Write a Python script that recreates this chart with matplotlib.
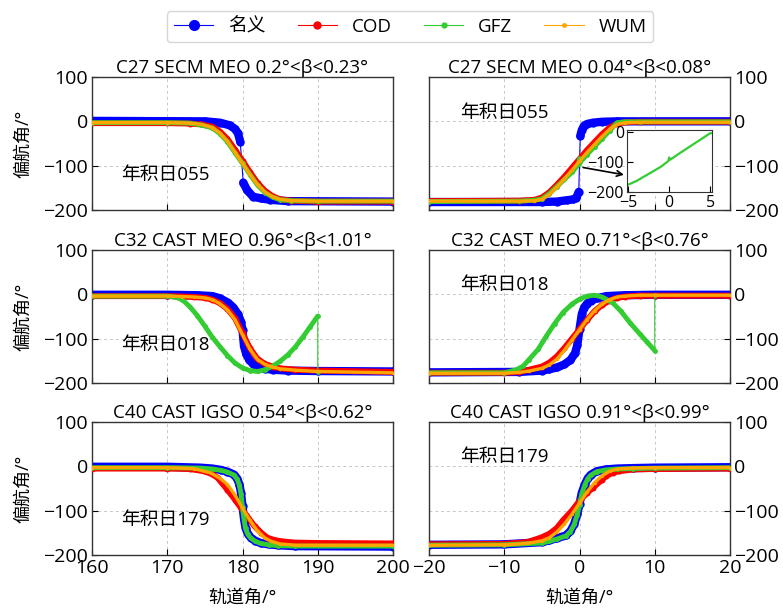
import numpy as np
import matplotlib
matplotlib.use('Agg')
import matplotlib.pyplot as plt
from matplotlib.lines import Line2D

plt.rcParams['font.family'] = ['Open Sans', 'Noto Sans CJK SC', 'DejaVu Sans']
plt.rcParams['axes.unicode_minus'] = True

# ---- data (orbit angle in deg, yaw angle in deg) ----
# panel 1: C27 SECM MEO 0.2°<β<0.23°, DOY 055
p1_nom_x = [160, 175, 177, 178.3, 179.0, 179.4, 179.7, 180.1, 180.6, 181.4, 182.5, 183.7, 186, 200]
p1_nom_y = [1, 0, -3, -9, -17, -27, -46, -138, -155, -170, -174, -177, -180, -181]
p1_x = [160, 170, 173, 174.5, 176, 177, 178, 179, 180, 181, 182, 183, 184, 185, 186.5, 190, 200]
p1_cod = [-4, -4, -5, -7, -12, -23, -40, -64, -89, -115, -139, -157, -169, -176, -179, -181, -181]
p1_gfz = [-3, -3, -4, -8, -15, -28, -46, -71, -95, -120, -144, -161, -171, -177, -179, -180, -180]
p1_wum = [-3, -3, -4, -7, -14, -27, -45, -70, -95, -120, -143, -160, -170, -176, -179, -180, -180]

# panel 2: C27 SECM MEO 0.04°<β<0.08°, DOY 055
p2_nom_x = [-20, -5, -3, -1.7, -0.8, -0.4, -0.1, 0.1, 0.3, 0.6, 1.0, 1.8, 3, 5, 20]
p2_nom_y = [-182, -182, -181, -178, -176, -172, -159, -33, -20, -10, -6, -3, -1, 0, 0]
p2_x = [-20, -8, -6, -5, -4, -3, -2, -1, 0, 1, 2, 3, 4, 5, 6, 8, 20]
p2_cod = [-180, -179, -177, -172, -160, -143, -125, -105, -85, -65, -47, -29, -14, -5, -2, -1, -1]
p2_wum = [-180, -180, -179, -176, -165, -148, -130, -110, -90, -70, -52, -34, -18, -7, -3, -2, -2]
p2_gfz_x = [-20, -8, -6, -5, -4, -3, -2, -1, -0.1, 0, 0.1, 1, 2, 3, 4, 5, 6, 8, 20]
p2_gfz = [-181, -180, -178, -175, -163, -147, -131, -115, -96, -84, -92, -75, -57, -39, -21, -3, -1, -1, -1]

# panel 3: C32 CAST MEO 0.96°<β<1.01°, DOY 018
p3_nom_x = [160, 170, 174, 176, 177, 178.1, 178.8, 179.4, 179.8, 180.0, 180.2, 180.5, 180.9,
            181.4, 182.0, 183, 184, 186, 190, 200]
p3_nom_y = [-1, -1, -2, -4, -9, -19, -30, -45, -62, -80, -117, -135, -148, -157, -163, -168,
            -170, -172, -173, -174]
p3_x = [160, 170, 172, 173.6, 175, 176, 177, 178, 179, 180, 181, 182, 183, 184, 185, 187, 190, 200]
p3_cod = [-4, -4, -5, -6, -8, -12, -20, -33, -54, -88, -122, -146, -157, -163, -167, -170, -172, -175]
p3_wum = [-4, -4, -5, -6, -8, -12, -21, -35, -57, -91, -124, -147, -158, -164, -168, -171, -174, -177]
p3_gfz_x = [160, 170, 171, 172, 173, 174, 175, 176, 177, 178, 179, 180, 181, 182, 183, 184, 185,
            186, 187, 188, 189, 190, 190]
p3_gfz = [-4, -4, -6, -12, -28, -48, -72, -97, -118, -138, -155, -166, -172, -174, -170, -162,
          -151, -137, -119, -97, -73, -49, -175]

# panel 4: C32 CAST MEO 0.71°<β<0.76°, DOY 018
p4_nom_x = [-20, -8, -5, -4, -3, -2, -1.2, -0.6, -0.3, 0, 0.3, 0.6, 1.0, 1.5, 2.5, 3.6, 6, 10, 20]
p4_nom_y = [-176, -175, -172, -169, -165, -158, -148, -133, -115, -79, -45, -30, -21, -14, -8, -4,
            -2, -1, -1]
p4_x = [-20, -10, -8, -6.7, -5, -4, -3, -2, -1, 0, 1, 2, 3, 4, 5, 6, 8, 10, 20]
p4_cod = [-177, -177, -175, -170, -163, -154, -140, -121, -100, -79, -58, -38, -24, -14, -8, -5, -3, -3, -3]
p4_wum = [-178, -178, -176, -173, -167, -159, -146, -126, -103, -80, -57, -37, -22, -12, -6, -4, -2, -2, -2]
p4_gfz_x = [-20, -10, -8.4, -7.5, -6.7, -5.5, -4.4, -3.3, -2.2, -1, 0, 1, 2, 3, 4.4, 5.5, 6.7,
            8, 9, 10, 10]
p4_gfz = [-177, -177, -170, -162, -147, -124, -94, -66, -41, -22, -11, -4, -2, -6, -19, -38, -64,
          -89, -108, -127, -2]

# panel 5: C40 CAST IGSO 0.54°<β<0.62°, DOY 179
p5_nom_x = [160, 170, 174.4, 176, 177.1, 178, 178.9, 179.3, 179.6, 179.8, 180, 180.2, 180.4,
            180.7, 181.1, 181.7, 182.4, 183.5, 184.7, 187, 200]
p5_nom_y = [-1, -1, -3, -5, -8, -12, -19, -28, -41, -60, -90, -118, -139, -152, -161, -168, -173,
            -176, -178, -180, -181]
p5_gfz = [-3, -3, -4, -6, -9, -13, -20, -29, -43, -62, -92, -120, -140, -153, -162, -169, -174,
          -177, -179, -180, -180]
p5_cod_x = [160, 170, 173, 174.9, 176, 176.7, 178, 179, 179.8, 180.5, 181.6, 182.5, 183.3, 184.2,
            185.1, 186.9, 190, 200]
p5_cod = [-5, -5, -6, -11, -18, -26, -53, -75, -94, -110, -135, -150, -161, -166, -169, -172, -173, -174]
p5_wum_x = [160, 170, 173.5, 175.8, 177, 178, 179, 180, 181, 182, 183, 183.8, 185, 187, 200]
p5_wum = [-3, -3, -5, -15, -27, -41, -65, -94, -122, -146, -162, -169, -175, -178, -178]

# panel 6: C40 CAST IGSO 0.91°<β<0.99°, DOY 179
p6_nom_x = [-20, -10, -5, -4, -3, -1.8, -1.2, -0.7, -0.3, 0, 0.3, 0.7, 1.1, 1.5, 2.3, 3.5, 5, 7.1, 10, 20]
p6_nom_y = [-177, -176, -171, -167, -162, -156, -146, -130, -108, -85, -60, -41, -27, -19, -11, -7,
            -5, -4, -3, -2]
p6_gfz = [-178, -177, -173, -169, -164, -157, -147, -131, -109, -87, -62, -42, -28, -20, -12, -8,
          -6, -5, -4, -3]
p6_cod_x = [-20, -10, -7, -6.2, -5, -4, -3, -2.2, -1, 0, 1, 1.8, 3, 3.5, 4.5, 5.3, 7.1, 10, 20]
p6_cod = [-176, -175, -171, -167, -160, -152, -139, -122, -100, -78, -60, -48, -30, -22, -14, -11, -7, -6, -5]
p6_wum_x = [-20, -10, -7, -5, -4, -3, -2, -1, 0, 1, 2, 3, 4, 5, 7, 10, 20]
p6_wum = [-178, -177, -174, -168, -161, -148, -130, -108, -83, -58, -37, -21, -11, -6, -4, -3, -3]

titles = ['C27 SECM MEO 0.2°<β<0.23°', 'C27 SECM MEO 0.04°<β<0.08°',
          'C32 CAST MEO 0.96°<β<1.01°', 'C32 CAST MEO 0.71°<β<0.76°',
          'C40 CAST IGSO 0.54°<β<0.62°', 'C40 CAST IGSO 0.91°<β<0.99°']
doy_labels = ['年积日055', '年积日055', '年积日018', '年积日018', '年积日179', '年积日179']
doy_pos = [(163.9, -121), (-15.9, 18), (163.9, -115), (-15.9, 20), (163.9, -120), (-15.9, 22)]
series_names = ['名义', 'COD', 'GFZ', 'WUM']

panels = [
    [(p1_nom_x, p1_nom_y), (p1_x, p1_cod), (p1_x, p1_gfz), (p1_x, p1_wum)],
    [(p2_nom_x, p2_nom_y), (p2_x, p2_cod), (p2_gfz_x, p2_gfz), (p2_x, p2_wum)],
    [(p3_nom_x, p3_nom_y), (p3_x, p3_cod), (p3_gfz_x, p3_gfz), (p3_x, p3_wum)],
    [(p4_nom_x, p4_nom_y), (p4_x, p4_cod), (p4_gfz_x, p4_gfz), (p4_x, p4_wum)],
    [(p5_nom_x, p5_nom_y), (p5_cod_x, p5_cod), (p5_nom_x, p5_gfz), (p5_wum_x, p5_wum)],
    [(p6_nom_x, p6_nom_y), (p6_cod_x, p6_cod), (p6_nom_x, p6_gfz), (p6_wum_x, p6_wum)],
]

# styles: colour, band width (pt), legend marker size
colors = ['#0000ff', '#ff0000', '#33cc33', '#ffa500']
band_lw = [6.0, 4.3, 3.5, 2.4]
leg_ms = [7, 5, 3.5, 2.5]


def draw_series(ax, x, y, color, lw, z):
    x = np.asarray(x, float)
    y = np.asarray(y, float)
    ax.plot(x, y, color=color, lw=0.8, zorder=z)
    # thick band made of dense markers in the original; break it at big jumps
    brk = np.where(np.abs(np.diff(y)) > 60)[0] + 1
    xb = np.insert(x, brk, np.nan)
    yb = np.insert(y, brk, np.nan)
    ax.plot(xb, yb, color=color, lw=lw, solid_capstyle='round', solid_joinstyle='round', zorder=z)
    ax.plot(x, y, 'o', color=color, ms=lw, mew=0, zorder=z)


fig = plt.figure(figsize=(7.83, 6.08), dpi=100)

lefts = [92 / 783, 429 / 783]
bottoms = [1 - 210 / 608, 1 - 383 / 608, 1 - 555 / 608]
w, h = 301 / 783, 133 / 608

axes = []
for i in range(6):
    row, col = i // 2, i % 2
    ax = fig.add_axes([lefts[col], bottoms[row], w, h])
    axes.append(ax)
    for k, (xs, ys) in enumerate(panels[i]):
        draw_series(ax, xs, ys, colors[k], band_lw[k], 2 + k)

    if col == 0:
        ax.set_xlim(160, 200)
        ax.set_xticks([160, 170, 180, 190, 200])
        ax.set_ylabel('偏航角/°', fontsize=13, labelpad=8)
    else:
        ax.set_xlim(-20, 20)
        ax.set_xticks([-20, -10, 0, 10, 20])
        ax.yaxis.tick_right()
    ax.set_ylim(-200, 100)
    ax.set_yticks([100, 0, -100, -200])
    ax.tick_params(direction='in', length=4, labelsize=14, pad=3)
    if row < 2:
        ax.tick_params(axis='x', labelbottom=False)
    else:
        ax.set_xlabel('轨道角/°', fontsize=13, labelpad=8)
    ax.grid(True, color='#c8c8c8', ls=(0, (3, 3)), lw=0.7)
    ax.set_axisbelow(True)
    for s in ax.spines.values():
        s.set_color('#333333')
        s.set_linewidth(1.0)
    ax.set_title(titles[i], fontsize=13.5, pad=3)
    ax.text(doy_pos[i][0], doy_pos[i][1], doy_labels[i], fontsize=13.5, va='center', ha='left', zorder=10)

# inset on panel 2: GFZ around orbit noon
ins = fig.add_axes([626.7 / 783, 1 - 192 / 608, 85 / 783, 62 / 608])
ins.plot(p2_gfz_x, p2_gfz, color=colors[2], lw=1.6)
ins.set_xlim(-5.2, 5.2)
ins.set_ylim(-200, 8)
ins.set_xticks([-5, 0, 5])
ins.set_yticks([0, -100, -200])
ins.tick_params(direction='in', length=4, labelsize=11.5, pad=2)
for s in ins.spines.values():
    s.set_color('#333333')
axes[1].annotate('', xy=(0.0, 0.27), xycoords=ins.transAxes, xytext=(0.1, -103), textcoords='data',
                 arrowprops=dict(arrowstyle='->', color='k', lw=1.2), zorder=12)

handles = [Line2D([], [], color=colors[k], lw=0.8, marker='o', ms=leg_ms[k]) for k in range(4)]
fig.legend(handles, series_names, loc='upper center', bbox_to_anchor=(0.524, 0.997), ncol=4,
           fontsize=13.5, handlelength=2.1, handletextpad=0.8, columnspacing=1.7,
           frameon=True, edgecolor='#cccccc', borderpad=0.35)

fig.savefig('out.png', dpi=100)
